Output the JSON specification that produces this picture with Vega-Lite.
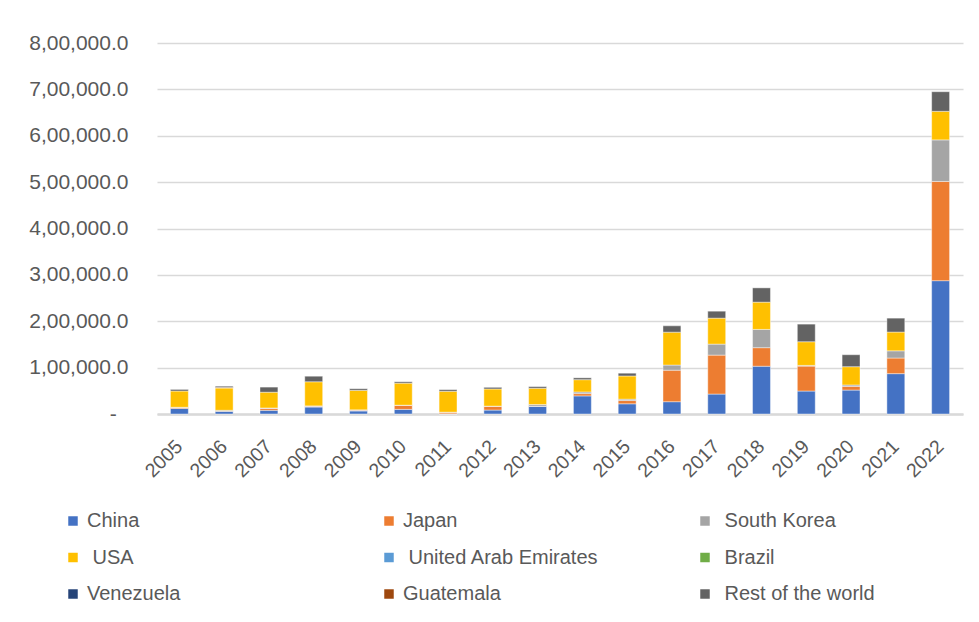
{
  "$schema": "https://vega.github.io/schema/vega-lite/v6.json",
  "width": 806,
  "height": 371,
  "autosize": {"type": "none"},
  "padding": {"left": 157, "top": 43, "right": 16, "bottom": 208},
  "background": "white",
  "data": {
    "values": [
      {"year": "2005", "country": "China", "value": 12000},
      {"year": "2005", "country": "Japan", "value": 2000},
      {"year": "2005", "country": "South Korea", "value": 500},
      {"year": "2005", "country": "USA", "value": 35000},
      {"year": "2005", "country": "Rest of the world", "value": 3500},
      {"year": "2006", "country": "China", "value": 6000},
      {"year": "2006", "country": "Japan", "value": 500},
      {"year": "2006", "country": "South Korea", "value": 1500},
      {"year": "2006", "country": "USA", "value": 48000},
      {"year": "2006", "country": "Guatemala", "value": 1500},
      {"year": "2006", "country": "Rest of the world", "value": 2500},
      {"year": "2007", "country": "China", "value": 8000},
      {"year": "2007", "country": "Japan", "value": 4000},
      {"year": "2007", "country": "South Korea", "value": 1000},
      {"year": "2007", "country": "USA", "value": 34000},
      {"year": "2007", "country": "Rest of the world", "value": 11000},
      {"year": "2008", "country": "China", "value": 15000},
      {"year": "2008", "country": "Japan", "value": 1500},
      {"year": "2008", "country": "South Korea", "value": 1000},
      {"year": "2008", "country": "USA", "value": 52000},
      {"year": "2008", "country": "Rest of the world", "value": 12000},
      {"year": "2009", "country": "China", "value": 6500},
      {"year": "2009", "country": "Japan", "value": 1500},
      {"year": "2009", "country": "South Korea", "value": 1000},
      {"year": "2009", "country": "USA", "value": 42000},
      {"year": "2009", "country": "Rest of the world", "value": 3500},
      {"year": "2010", "country": "China", "value": 10000},
      {"year": "2010", "country": "Japan", "value": 8500},
      {"year": "2010", "country": "South Korea", "value": 500},
      {"year": "2010", "country": "USA", "value": 47500},
      {"year": "2010", "country": "Rest of the world", "value": 3000},
      {"year": "2011", "country": "China", "value": 500},
      {"year": "2011", "country": "Japan", "value": 3000},
      {"year": "2011", "country": "South Korea", "value": 500},
      {"year": "2011", "country": "USA", "value": 45000},
      {"year": "2011", "country": "Rest of the world", "value": 3500},
      {"year": "2012", "country": "China", "value": 8500},
      {"year": "2012", "country": "Japan", "value": 8000},
      {"year": "2012", "country": "South Korea", "value": 500},
      {"year": "2012", "country": "USA", "value": 37000},
      {"year": "2012", "country": "Rest of the world", "value": 3500},
      {"year": "2013", "country": "China", "value": 16500},
      {"year": "2013", "country": "Japan", "value": 500},
      {"year": "2013", "country": "South Korea", "value": 3500},
      {"year": "2013", "country": "USA", "value": 35000},
      {"year": "2013", "country": "Rest of the world", "value": 3500},
      {"year": "2014", "country": "China", "value": 39000},
      {"year": "2014", "country": "Japan", "value": 5000},
      {"year": "2014", "country": "South Korea", "value": 3500},
      {"year": "2014", "country": "USA", "value": 26500},
      {"year": "2014", "country": "Rest of the world", "value": 4000},
      {"year": "2015", "country": "China", "value": 22000},
      {"year": "2015", "country": "Japan", "value": 7000},
      {"year": "2015", "country": "South Korea", "value": 3000},
      {"year": "2015", "country": "USA", "value": 50000},
      {"year": "2015", "country": "Rest of the world", "value": 6000},
      {"year": "2016", "country": "China", "value": 26500},
      {"year": "2016", "country": "Japan", "value": 68000},
      {"year": "2016", "country": "South Korea", "value": 11000},
      {"year": "2016", "country": "USA", "value": 71000},
      {"year": "2016", "country": "Rest of the world", "value": 13600},
      {"year": "2017", "country": "China", "value": 43000},
      {"year": "2017", "country": "Japan", "value": 84000},
      {"year": "2017", "country": "South Korea", "value": 23700},
      {"year": "2017", "country": "USA", "value": 56000},
      {"year": "2017", "country": "Rest of the world", "value": 15000},
      {"year": "2018", "country": "China", "value": 103000},
      {"year": "2018", "country": "Japan", "value": 40000},
      {"year": "2018", "country": "South Korea", "value": 39400},
      {"year": "2018", "country": "USA", "value": 58800},
      {"year": "2018", "country": "Rest of the world", "value": 30800},
      {"year": "2019", "country": "China", "value": 49500},
      {"year": "2019", "country": "Japan", "value": 53800},
      {"year": "2019", "country": "South Korea", "value": 1500},
      {"year": "2019", "country": "USA", "value": 51000},
      {"year": "2019", "country": "Rest of the world", "value": 38000},
      {"year": "2020", "country": "China", "value": 51600},
      {"year": "2020", "country": "Japan", "value": 8000},
      {"year": "2020", "country": "South Korea", "value": 3000},
      {"year": "2020", "country": "USA", "value": 39400},
      {"year": "2020", "country": "Rest of the world", "value": 25800},
      {"year": "2021", "country": "China", "value": 87000},
      {"year": "2021", "country": "Japan", "value": 33700},
      {"year": "2021", "country": "South Korea", "value": 15500},
      {"year": "2021", "country": "USA", "value": 40500},
      {"year": "2021", "country": "Rest of the world", "value": 30000},
      {"year": "2022", "country": "China", "value": 287500},
      {"year": "2022", "country": "Japan", "value": 214000},
      {"year": "2022", "country": "South Korea", "value": 89600},
      {"year": "2022", "country": "USA", "value": 61600},
      {"year": "2022", "country": "Rest of the world", "value": 42300}
    ]
  },
  "transform": [
    {"calculate": "indexof(['China', 'Japan', 'South Korea', 'USA', 'United Arab Emirates', 'Brazil', 'Venezuela', 'Guatemala', 'Rest of the world'], datum.country)", "as": "stackRank"}
  ],
  "mark": {"type": "bar", "stroke": "white", "strokeWidth": 0.6, "strokeOpacity": 0.7},
  "encoding": {
    "x": {
      "field": "year",
      "type": "nominal",
      "title": null,
      "scale": {"paddingInner": 0.6, "paddingOuter": 0.3},
      "axis": {
        "labelAngle": -45,
        "labelAlign": "right",
        "labelBaseline": "middle",
        "labelFont": "Liberation Sans",
        "labelFontSize": 19.5,
        "labelColor": "#595959",
        "labelPadding": 29,
        "ticks": false,
        "domainColor": "#d9d9d9",
        "domainWidth": 2.5,
        "grid": false
      }
    },
    "y": {
      "field": "value",
      "type": "quantitative",
      "aggregate": "sum",
      "stack": "zero",
      "title": null,
      "scale": {"domain": [0, 800000], "nice": false},
      "axis": {
        "values": [0, 100000, 200000, 300000, 400000, 500000, 600000, 700000, 800000],
        "labelExpr": "datum.value == 0 ? '-\u00a0\u00a0\u200b' : (floor(datum.value / 100000) + ',00,000.0')",
        "labelFont": "Liberation Sans",
        "labelFontSize": 21,
        "labelColor": "#595959",
        "labelPadding": 29,
        "ticks": false,
        "domain": false,
        "gridColor": "#d9d9d9",
        "gridWidth": 1.5
      }
    },
    "order": {"field": "stackRank", "type": "quantitative", "sort": "ascending"},
    "color": {
      "field": "country",
      "type": "nominal",
      "title": null,
      "scale": {
        "domain": ["China", "Japan", "South Korea", "USA", "United Arab Emirates", "Brazil", "Venezuela", "Guatemala", "Rest of the world"],
        "range": ["#4472C4", "#ED7D31", "#A5A5A5", "#FFC000", "#5B9BD5", "#70AD47", "#264478", "#9E480E", "#636363"]
      },
      "legend": {
        "values": ["China", "USA", "Venezuela", "Japan", "United Arab Emirates", "Guatemala", "South Korea", "Brazil", "Rest of the world"],
        "orient": "none",
        "legendX": -94,
        "legendY": 468,
        "columns": 3,
        "gridAlign": "all",
        "columnPadding": 96,
        "rowPadding": 16.5,
        "symbolType": "square",
        "symbolSize": 90,
        "symbolStrokeWidth": 0,
        "labelOffset": 4,
        "labelFont": "Liberation Sans",
        "labelFontSize": 20,
        "labelColor": "#595959",
        "labelLimit": 300,
        "labelExpr": "(datum.label == 'China' || datum.label == 'Japan' || datum.label == 'Venezuela' || datum.label == 'Guatemala') ? datum.label : '\u200b\u00a0' + datum.label"
      }
    }
  },
  "config": {"view": {"stroke": null}}
}
